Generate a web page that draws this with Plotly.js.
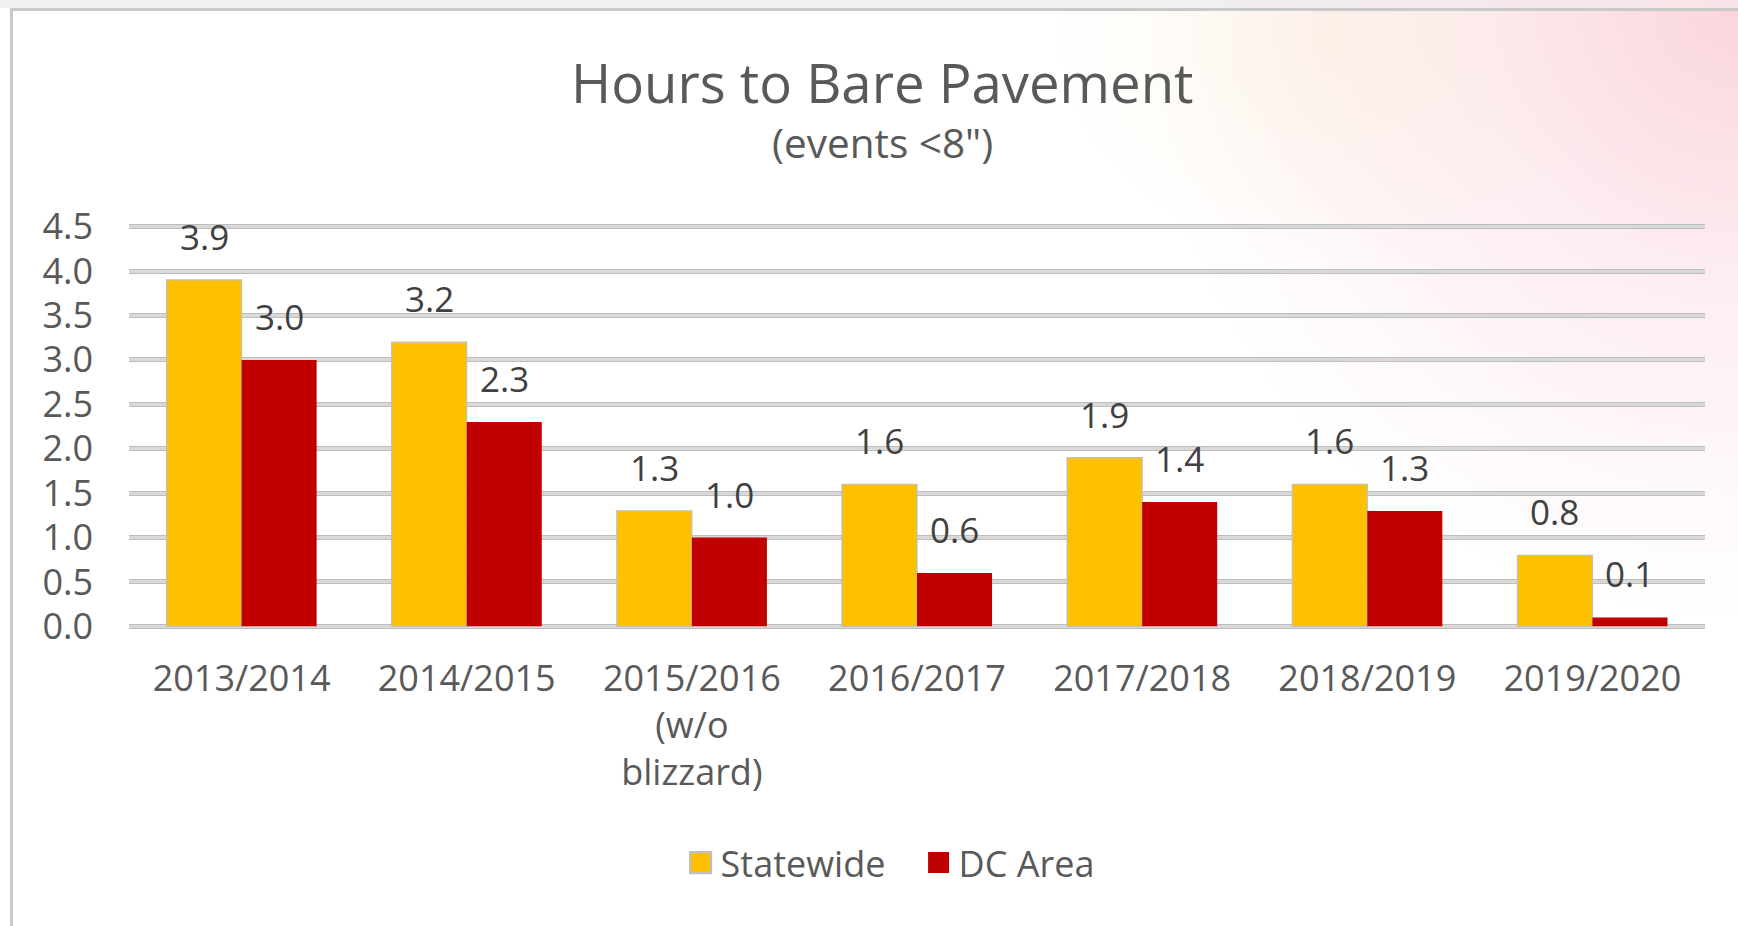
<!DOCTYPE html>
<html>
<head>
<meta charset="utf-8">
<script src="https://cdn.plot.ly/plotly-3.0.1.min.js"></script>
<style>
  html, body { margin: 0; padding: 0; background: #ffffff; overflow: hidden; }
  #frame {
    position: absolute; left: 0; top: 0; width: 1738px; height: 926px;
    background:
      radial-gradient(ellipse 600px 620px at 1738px 0px, rgba(244,160,178,0.45) 0%, rgba(248,196,207,0.30) 45%, rgba(255,255,255,0) 100%),
      radial-gradient(ellipse 280px 220px at 1330px 40px, rgba(250,240,205,0.35) 0%, rgba(255,255,255,0) 100%),
      #ffffff;
  }
  #topstrip {
    position: absolute; left: 0; top: 0; width: 1738px; height: 8px;
    background: linear-gradient(to right, #f0f0f0 0%, #f0f0f0 65%, #f8e4e8 100%);
  }
  #border {
    position: absolute; left: 10px; top: 8px; width: 1740px; height: 930px;
    border-left: 3px solid #c9c9c9; border-top: 3px solid #c9c9c9;
    pointer-events: none; box-sizing: border-box;
  }
  #chart { position: absolute; left: 0; top: 0; width: 1738px; height: 926px; }
</style>
</head>
<body>
<div id="frame"></div>
<div id="topstrip"></div>
<div id="chart"></div>
<div id="border"></div>
<script>
// ---- data ----
const categories = ['2013/2014', '2014/2015', '2015/2016<br>(w/o<br>blizzard)', '2016/2017', '2017/2018', '2018/2019', '2019/2020'];
const statewide = [3.9, 3.2, 1.3, 1.6, 1.9, 1.6, 0.8];
const dcArea = [3.0, 2.3, 1.0, 0.6, 1.4, 1.3, 0.1];
const seriesNames = ['Statewide', 'DC Area'];
const yTicks = [0, 0.5, 1, 1.5, 2, 2.5, 3, 3.5, 4, 4.5];
const chartTitle = 'Hours to Bare Pavement';
const chartSubtitle = '(events &lt;8")';

const FONT = '"Open Sans", "DejaVu Sans", sans-serif';
const textGrey = '#595959';
const labelGrey = '#404040';

const traces = [
  {
    type: 'bar', name: seriesNames[0], x: categories, y: statewide,
    marker: { color: '#FFC000', line: { color: '#bfbfbf', width: 1.2 } },
    hoverinfo: 'x+y'
  },
  {
    type: 'bar', name: seriesNames[1], x: categories, y: dcArea,
    marker: { color: '#C00000', line: { width: 0 } },
    hoverinfo: 'x+y'
  },
  // empty helper trace to host the overlay axis (inner grid line colour)
  { type: 'scatter', x: [], y: [], yaxis: 'y2', showlegend: false, hoverinfo: 'skip' }
];

// data labels, placed above each bar through the axis scales
const annotations = [];
const barOffset = 1 / 6; // each bar is one third of the category band
[statewide, dcArea].forEach((vals, s) => {
  vals.forEach((v, i) => {
    annotations.push({
      x: i + (s === 0 ? -barOffset : barOffset), y: v, xref: 'x', yref: 'y',
      text: v.toFixed(1), showarrow: false, xanchor: 'center', yanchor: 'bottom',
      yshift: 18, font: { family: FONT, size: 35, color: labelGrey }
    });
  });
});
// plot area spans 223.8 .. 629.2 px for range [-0.03, 4.53]
annotations.push({
  xref: 'paper', yref: 'paper', x: 0.4784, y: 1.350, xanchor: 'center', yanchor: 'middle',
  text: chartTitle, showarrow: false, font: { family: FONT, size: 54.5, color: textGrey }
});
annotations.push({
  xref: 'paper', yref: 'paper', x: 0.4784, y: 1.202, xanchor: 'center', yanchor: 'middle',
  text: chartSubtitle, showarrow: false, font: { family: FONT, size: 40.5, color: textGrey }
});

const yRange = [-0.03, 4.53];

const layout = {
  width: 1738, height: 926,
  margin: { l: 129, r: 33, t: 223.83, b: 296.83, pad: 0 },
  paper_bgcolor: 'rgba(0,0,0,0)', plot_bgcolor: 'rgba(0,0,0,0)',
  barmode: 'group', bargap: 1 / 3, bargroupgap: 0,
  showlegend: true,
  legend: {
    orientation: 'h', x: 0.501, xanchor: 'center', y: -0.577, yanchor: 'middle',
    font: { family: FONT, size: 36, color: textGrey }, bgcolor: 'rgba(0,0,0,0)',
    traceorder: 'normal', entrywidth: 193, entrywidthmode: 'pixels'
  },
  xaxis: {
    type: 'category', automargin: false, showgrid: false, zeroline: false, showline: false,
    ticks: '', ticklabelstandoff: 25,
    tickfont: { family: FONT, size: 36, color: textGrey }
  },
  yaxis: {
    range: yRange, automargin: false, tickvals: yTicks, tickformat: '.1f',
    showgrid: true, gridcolor: '#bdbdbd', gridwidth: 5, zeroline: false, showline: false,
    ticks: '', ticklabelstandoff: 35,
    tickfont: { family: FONT, size: 36, color: textGrey }
  },
  yaxis2: {
    overlaying: 'y', range: yRange, tickvals: yTicks, showticklabels: false,
    showgrid: true, gridcolor: '#d9d9d9', gridwidth: 2.5, zeroline: false, showline: false,
    ticks: '', automargin: false
  },
  annotations: annotations,
  hovermode: 'closest'
};

Plotly.newPlot('chart', traces, layout, { displayModeBar: false }).then(() => {
  document.querySelectorAll('.legendpoints path').forEach(p => {
    const t = p.getAttribute('transform') || '';
    p.setAttribute('transform', t + ' scale(1.75)');
  });
});
</script>
</body>
</html>
